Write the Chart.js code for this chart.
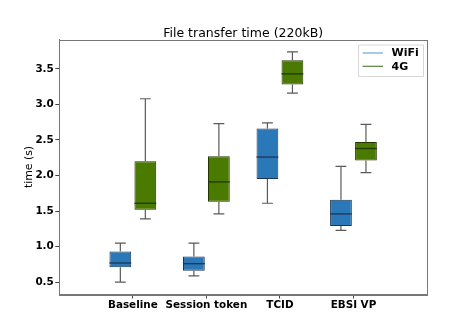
<!DOCTYPE html>
<html>
<head>
<meta charset="utf-8">
<script src="https://cdn.jsdelivr.net/npm/chart.js@4/dist/chart.umd.min.js"></script>
<style>
  html, body { margin: 0; padding: 0; background: #fff; }
  #wrap { width: 474px; height: 331px; }
</style>
</head>
<body>
<div id="wrap"><canvas id="c" width="474" height="331"></canvas></div>
<script>
// Transfer-time distributions per mechanism (seconds)
const categories = ['Baseline', 'Session token', 'TCID', 'EBSI VP'];

const wifiMin = [0.50, 0.59, 1.61, 1.23];
const wifiQ1  = [0.71, 0.66, 1.95, 1.29];
const wifiMed = [0.77, 0.76, 2.26, 1.46];
const wifiQ3  = [0.93, 0.86, 2.66, 1.66];
const wifiMax = [1.05, 1.05, 2.74, 2.13];

const lteMin = [1.39, 1.46, 3.16, 2.04];
const lteQ1  = [1.52, 1.63, 3.28, 2.21];
const lteMed = [1.61, 1.91, 3.43, 2.38];
const lteQ3  = [2.20, 2.27, 3.62, 2.47];
const lteMax = [3.08, 2.73, 3.74, 2.72];

const yTicks = [0.5, 1.0, 1.5, 2.0, 2.5, 3.0, 3.5];

const chartTitle = 'File transfer time (220kB)';

// Empty slots at both ends give a full category of margin on each side
const xLabels = ['', ...categories, ''];
const pad = arr => [null, ...arr, null];

const series = [
  { label: 'WiFi', min: wifiMin, q1: wifiQ1, med: wifiMed, q3: wifiQ3, max: wifiMax,
    fill: '#2b78b9', edge: '#1d3550', legendLine: '#6ca7db' },
  { label: '4G', min: lteMin, q1: lteQ1, med: lteMed, q3: lteQ3, max: lteMax,
    fill: '#4a7a00', edge: '#223600', legendLine: '#5a8040' }
];

const FONT = 'DejaVu Sans';

// Whiskers, caps and medians drawn on top of the floating-bar boxes
const boxExtras = {
  id: 'boxExtras',
  afterDatasetsDraw(chart) {
    const ctx = chart.ctx;
    const y = chart.scales.y;
    ctx.save();
    series.forEach((s, di) => {
      const meta = chart.getDatasetMeta(di);
      categories.forEach((_, i) => {
        const bar = meta.data[i + 1];
        if (!bar) return;
        const cx = bar.x;
        const w = bar.width;
        const yMin = y.getPixelForValue(s.min[i]);
        const yQ1 = y.getPixelForValue(s.q1[i]);
        const yQ3 = y.getPixelForValue(s.q3[i]);
        const yMax = y.getPixelForValue(s.max[i]);
        const yMed = y.getPixelForValue(s.med[i]);
        ctx.strokeStyle = '#5a5a5a';
        ctx.lineWidth = 1.2;
        ctx.beginPath();
        ctx.moveTo(cx, yQ3); ctx.lineTo(cx, yMax);
        ctx.moveTo(cx, yQ1); ctx.lineTo(cx, yMin);
        ctx.moveTo(cx - w / 4, yMax); ctx.lineTo(cx + w / 4, yMax);
        ctx.moveTo(cx - w / 4, yMin); ctx.lineTo(cx + w / 4, yMin);
        ctx.stroke();
        ctx.strokeStyle = s.edge;
        ctx.lineWidth = 1.3;
        ctx.beginPath();
        ctx.moveTo(cx - w / 2, yMed); ctx.lineTo(cx + w / 2, yMed);
        ctx.stroke();
      });
    });
    ctx.restore();
  }
};

// Title centred over the plot, full frame, and the boxed legend in the upper right
const frameAndLegend = {
  id: 'frameAndLegend',
  afterDraw(chart) {
    const ctx = chart.ctx;
    const a = chart.chartArea;
    ctx.save();

    ctx.fillStyle = '#000';
    ctx.font = '12.5px "' + FONT + '"';
    ctx.textAlign = 'center';
    ctx.textBaseline = 'alphabetic';
    ctx.fillText(chartTitle, (a.left + a.right) / 2, a.top - 3);

    ctx.strokeStyle = '#777';
    ctx.lineWidth = 1;
    ctx.strokeRect(Math.round(a.left) + 0.5, Math.round(a.top) + 0.5,
                   Math.round(a.right - a.left), Math.round(a.bottom - a.top));

    const bx = a.right - 69, by = a.top + 5, bw = 65, bh = 31.5;
    ctx.fillStyle = 'rgba(255,255,255,0.85)';
    ctx.strokeStyle = '#d8d8d8';
    ctx.beginPath();
    ctx.rect(bx + 0.5, by + 0.5, bw, bh);
    ctx.fill();
    ctx.stroke();

    ctx.font = 'bold 11px "' + FONT + '"';
    ctx.textBaseline = 'middle';
    ctx.textAlign = 'left';
    series.forEach((s, i) => {
      const ly = by + 8.5 + i * 13.3;
      ctx.strokeStyle = s.legendLine;
      ctx.lineWidth = 1.2;
      ctx.beginPath();
      ctx.moveTo(bx + 4.5, ly); ctx.lineTo(bx + 25, ly);
      ctx.stroke();
      ctx.fillStyle = '#000';
      ctx.fillText(s.label, bx + 33.5, ly + 0.5);
    });
    ctx.restore();
  }
};

new Chart(document.getElementById('c'), {
  type: 'bar',
  data: {
    labels: xLabels,
    datasets: series.map(s => ({
      label: s.label,
      data: pad(s.q1.map((v, i) => [v, s.q3[i]])),
      backgroundColor: s.fill,
      borderColor: s.edge,
      borderWidth: 1,
      borderSkipped: false,
      categoryPercentage: 0.68,
      barPercentage: 0.87
    }))
  },
  options: {
    responsive: false,
    animation: false,
    layout: { padding: { left: 0, right: 47, top: 39.5, bottom: 0 } },
    plugins: {
      legend: { display: false },
      tooltip: { enabled: false },
      title: { display: false }
    },
    scales: {
      x: {
        type: 'category',
        offset: false,
        grid: {
          offset: false,
          drawOnChartArea: false,
          drawTicks: true,
          tickLength: 4,
          tickColor: c => (c.index === 0 || c.index === xLabels.length - 1) ? 'rgba(0,0,0,0)' : '#444'
        },
        border: { color: '#777' },
        ticks: {
          color: '#000',
          padding: 1,
          maxRotation: 0,
          autoSkip: false,
          font: { family: FONT, size: 10.4, weight: 'bold' }
        },
        afterFit: s => { s.height = 36.5; }
      },
      y: {
        min: 0.327,
        max: 3.913,
        afterBuildTicks: s => { s.ticks = yTicks.map(v => ({ value: v })); },
        grid: { drawOnChartArea: false, drawTicks: true, tickLength: 4, tickColor: '#444' },
        border: { color: '#777' },
        ticks: {
          color: '#000',
          padding: 1.5,
          font: { family: FONT, size: 10.4, weight: 'bold' },
          callback: v => Number(v).toFixed(1)
        },
        title: {
          display: true,
          text: 'time (s)',
          color: '#000',
          font: { family: FONT, size: 10.9, weight: 'normal' },
          padding: { top: 22.5, bottom: 0 }
        },
        afterFit: s => { s.width = 59.3; }
      }
    }
  },
  plugins: [boxExtras, frameAndLegend]
});
</script>
</body>
</html>
